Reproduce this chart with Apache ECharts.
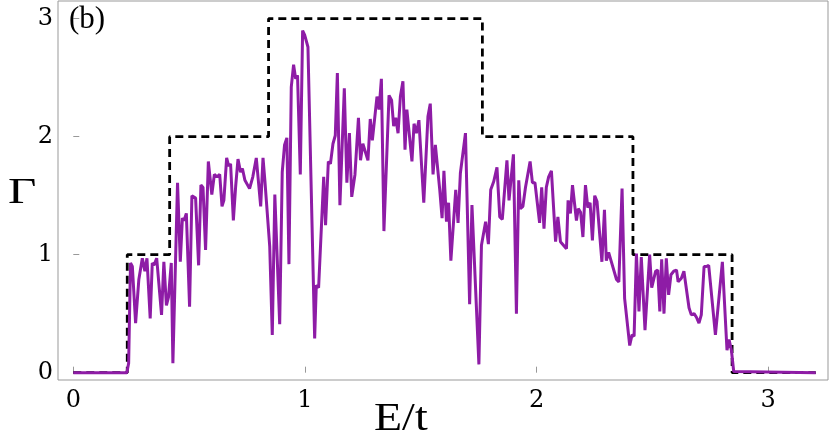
<!DOCTYPE html>
<html>
<head>
<meta charset="utf-8">
<script src="https://cdn.jsdelivr.net/npm/echarts@6/dist/echarts.min.js"></script>
<style>
  html, body { margin: 0; padding: 0; background: #fff; }
  #chart { width: 829px; height: 431px; }
</style>
</head>
<body>
<div id="chart"></div>
<script>
// E/t values of the noisy curve
var energy = [
  0.000, 0.231, 0.239, 0.247, 0.255, 0.269, 0.283, 0.298, 0.309, 0.318,
  0.332, 0.341, 0.348, 0.360, 0.381, 0.391, 0.402, 0.411, 0.423, 0.430,
  0.450, 0.462, 0.471, 0.478, 0.488, 0.502, 0.512, 0.528, 0.541, 0.551,
  0.560, 0.571, 0.583, 0.598, 0.609, 0.620, 0.632, 0.642, 0.650, 0.662,
  0.671, 0.679, 0.691, 0.701, 0.711, 0.722, 0.730, 0.741, 0.761, 0.775,
  0.790, 0.809, 0.819, 0.827, 0.848, 0.859, 0.870, 0.891, 0.902, 0.912,
  0.922, 0.931, 0.941, 0.951, 0.960, 0.968, 0.980, 0.990, 0.999, 1.013,
  1.042, 1.049, 1.059, 1.081, 1.089, 1.101, 1.110, 1.121, 1.131, 1.140,
  1.151, 1.170, 1.181, 1.192, 1.202, 1.216, 1.231, 1.240, 1.250, 1.272,
  1.282, 1.291, 1.311, 1.320, 1.330, 1.341, 1.363, 1.374, 1.383, 1.392,
  1.402, 1.412, 1.423, 1.432, 1.440, 1.462, 1.471, 1.481, 1.492, 1.513,
  1.531, 1.541, 1.553, 1.563, 1.582, 1.592, 1.600, 1.611, 1.620, 1.630,
  1.651, 1.661, 1.671, 1.693, 1.711, 1.721, 1.751, 1.762, 1.780, 1.792,
  1.802, 1.815, 1.829, 1.841, 1.852, 1.872, 1.881, 1.900, 1.913, 1.923,
  1.930, 1.941, 1.952, 1.960, 1.972, 1.982, 1.993, 2.013, 2.022, 2.032,
  2.042, 2.052, 2.064, 2.082, 2.092, 2.103, 2.129, 2.136, 2.146, 2.155,
  2.172, 2.180, 2.190, 2.200, 2.211, 2.221, 2.231, 2.241, 2.251, 2.261,
  2.282, 2.293, 2.301, 2.311, 2.345, 2.355, 2.369, 2.380, 2.402, 2.412,
  2.421, 2.431, 2.442, 2.452, 2.468, 2.488, 2.497, 2.514, 2.523, 2.532,
  2.540, 2.550, 2.560, 2.570, 2.580, 2.592, 2.604, 2.611, 2.625, 2.636,
  2.658, 2.668, 2.680, 2.690, 2.701, 2.711, 2.723, 2.733, 2.743, 2.772,
  2.802, 2.822, 2.831, 2.841, 2.851, 3.205
]
// Gamma of the noisy curve
var gamma = [
  0.00, 0.00, 0.08, 0.93, 0.90, 0.42, 0.79, 0.97, 0.86, 0.97,
  0.46, 0.93, 0.91, 0.97, 0.49, 0.94, 0.57, 0.64, 0.93, 0.08,
  1.61, 0.94, 1.31, 1.29, 1.35, 0.56, 1.50, 1.48, 0.91, 1.59,
  1.57, 1.04, 1.79, 1.51, 1.68, 1.66, 1.68, 1.41, 1.46, 1.82,
  1.75, 1.77, 1.29, 1.58, 1.81, 1.70, 1.73, 1.63, 1.56, 1.66,
  1.82, 1.41, 1.82, 1.63, 1.07, 0.32, 1.51, 0.41, 1.70, 1.93,
  1.99, 0.92, 2.42, 2.61, 2.49, 2.52, 1.68, 2.90, 2.86, 2.76,
  0.29, 0.74, 0.72, 1.66, 1.25, 1.79, 1.77, 1.94, 2.01, 2.54,
  1.42, 2.41, 1.61, 2.03, 1.49, 1.68, 2.16, 1.80, 1.94, 1.80,
  2.15, 1.97, 2.34, 2.23, 2.49, 1.20, 2.35, 2.31, 2.09, 2.16,
  2.03, 2.34, 2.47, 1.89, 2.23, 1.79, 2.11, 2.03, 2.14, 1.44,
  2.17, 2.28, 1.68, 1.93, 1.55, 1.31, 1.71, 1.28, 1.44, 0.95,
  1.55, 1.27, 1.69, 2.03, 0.58, 1.42, 0.07, 1.08, 1.28, 1.09,
  1.55, 1.62, 1.74, 1.32, 1.30, 1.80, 1.46, 1.85, 0.50, 1.63,
  1.39, 1.41, 1.57, 1.57, 1.79, 1.61, 1.61, 1.27, 1.57, 1.22,
  1.57, 1.66, 1.71, 1.11, 1.32, 1.11, 1.05, 1.46, 1.35, 1.59,
  1.29, 1.39, 1.36, 1.15, 1.59, 1.40, 1.44, 1.12, 1.50, 1.45,
  0.94, 1.38, 0.95, 1.02, 0.79, 0.77, 1.56, 0.63, 0.23, 0.32,
  0.31, 1.01, 0.52, 0.98, 0.36, 1.00, 0.72, 0.86, 0.87, 0.52,
  0.96, 0.50, 0.97, 0.66, 0.83, 0.86, 0.87, 0.77, 0.80, 0.86,
  0.55, 0.49, 0.50, 0.47, 0.42, 0.49, 0.90, 0.90, 0.91, 0.32,
  0.94, 0.19, 0.28, 0.19, 0.01, 0.00
]
// dashed step function: edges and levels
var stepEdges = [0, 0.233, 0.416, 0.843, 1.766, 2.416, 2.844, 3.205]
var stepLevels = [0, 1, 2, 3, 2, 1, 0]
var xTicks = [0, 1, 2, 3]
var yTicks = [0, 1, 2, 3]

var curve = energy.map(function (e, i) { return [e, gamma[i]] })
var steps = []
for (var i = 0; i < stepLevels.length; i++) {
  steps.push([stepEdges[i], stepLevels[i]])
  steps.push([stepEdges[i + 1], stepLevels[i]])
}

// the figure is a bit stretched sideways, so the big labels get scaleX
function label (text, x, y, size, sx) {
  return {
    type: 'text',
    x: x,
    y: y,
    scaleX: sx,
    z: 100,
    style: {
      text: text,
      font: size + 'px "Liberation Serif"',
      fill: '#000',
      verticalAlign: 'middle'
    }
  }
}

var chart = echarts.init(document.getElementById('chart'))
chart.setOption({
  animation: false,
  backgroundColor: '#fff',
  grid: { left: 58, right: 1, top: 1, bottom: 51, show: true, borderColor: '#999', borderWidth: 1 },
  xAxis: {
    type: 'value',
    min: -0.066,
    max: 3.258,
    axisLine: { show: false },
    splitLine: { show: false },
    axisTick: { inside: true, length: 6, lineStyle: { color: '#999' }, customValues: xTicks },
    axisLabel: { customValues: xTicks, margin: 9, color: '#000', fontFamily: 'DejaVu Serif', fontSize: 24 }
  },
  yAxis: {
    type: 'value',
    min: -0.062,
    max: 3.15,
    axisLine: { show: false },
    splitLine: { show: false },
    axisTick: { inside: true, length: 6, lineStyle: { color: '#999' }, customValues: yTicks },
    axisLabel: { customValues: yTicks, margin: 5, color: '#000', fontFamily: 'DejaVu Serif', fontSize: 24 }
  },
  graphic: [
    { type: 'text', left: 69, top: 4, z: 100, style: { text: '(b)', font: '31px "Liberation Serif"', fill: '#000' } },
    label('E/t', 374, 419, 40, 1.15),
    label('Γ', 8, 194, 35, 1.4)
  ],
  series: [
    {
      name: 'step',
      type: 'line',
      data: steps,
      symbol: 'none',
      lineStyle: { color: '#000', width: 2.8, type: [8, 5] },
      z: 2
    },
    {
      name: 'Gamma',
      type: 'line',
      data: curve,
      symbol: 'none',
      lineStyle: { color: '#8e1ca6', width: 3 },
      z: 3
    }
  ]
})
</script>
</body>
</html>
